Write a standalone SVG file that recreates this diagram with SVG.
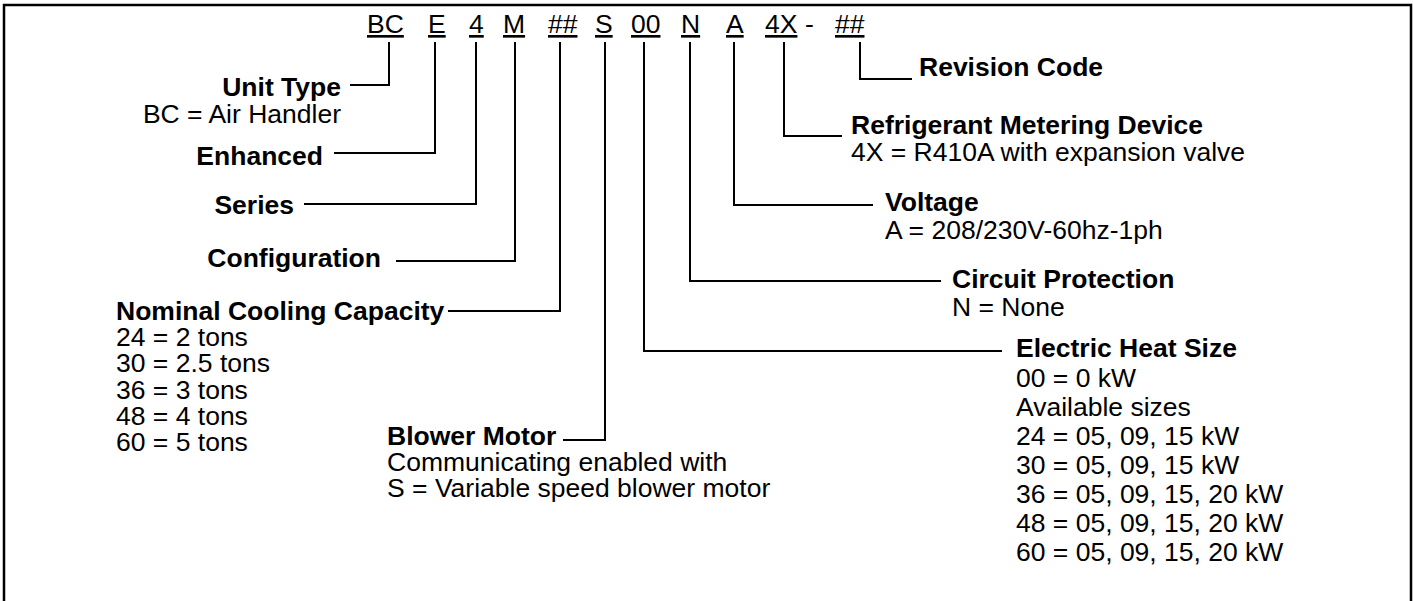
<svg xmlns="http://www.w3.org/2000/svg" width="1413" height="601" viewBox="0 0 1413 601">
<style>
text{font-family:"Liberation Sans",Arial,sans-serif;font-size:26.5px;fill:#000}
.b{font-weight:bold}
.e{text-anchor:end}
.u{text-decoration:underline}
.c{fill:none;stroke:#000;stroke-width:2}
</style>
<rect x="0" y="0" width="1413" height="601" fill="#fff"/>
<rect x="4" y="5" width="1407" height="640" fill="none" stroke="#000" stroke-width="2.5"/>
<g id="code">
<text class="u" x="367" y="33">BC</text>
<text class="u" x="428" y="33">E</text>
<text class="u" x="469" y="33">4</text>
<text class="u" x="503" y="33">M</text>
<text class="u" x="548" y="33">##</text>
<text class="u" x="595" y="33">S</text>
<text class="u" x="631" y="33">00</text>
<text class="u" x="681" y="33">N</text>
<text class="u" x="726" y="33">A</text>
<text class="u" x="765" y="33">4X</text>
<text x="805" y="33">-</text>
<text class="u" x="835" y="33">##</text>
</g>
<g id="connectors">
<path class="c" d="M389,42 V85 H350"/>
<path class="c" d="M435,42 V153 H334"/>
<path class="c" d="M476,42 V204 H304"/>
<path class="c" d="M515,42 V261 H396"/>
<path class="c" d="M560,42 V311 H448"/>
<path class="c" d="M605,42 V440 H563"/>
<path class="c" d="M644,42 V351 H1002"/>
<path class="c" d="M690,42 V281 H941"/>
<path class="c" d="M734,42 V205 H873"/>
<path class="c" d="M784,42 V136 H842"/>
<path class="c" d="M860,42 V79 H912"/>
</g>
<g id="unit-type">
<text class="b e" x="341" y="96">Unit Type</text>
<text class="e" x="341" y="123">BC = Air Handler</text>
</g>
<g id="enhanced"><text class="b e" x="323" y="165">Enhanced</text></g>
<g id="series"><text class="b e" x="294" y="214">Series</text></g>
<g id="configuration"><text class="b e" x="381" y="267">Configuration</text></g>
<g id="capacity">
<text class="b" x="116" y="320">Nominal Cooling Capacity</text>
<text x="116" y="346">24 = 2 tons</text>
<text x="116" y="372">30 = 2.5 tons</text>
<text x="116" y="399">36 = 3 tons</text>
<text x="116" y="425">48 = 4 tons</text>
<text x="116" y="451">60 = 5 tons</text>
</g>
<g id="blower">
<text class="b" x="387" y="445">Blower Motor</text>
<text x="387" y="471">Communicating enabled with</text>
<text x="387" y="497">S = Variable speed blower motor</text>
</g>
<g id="revision"><text class="b" x="919" y="76">Revision Code</text></g>
<g id="metering">
<text class="b" x="851" y="134">Refrigerant Metering Device</text>
<text x="851" y="161">4X = R410A with expansion valve</text>
</g>
<g id="voltage">
<text class="b" x="885" y="211">Voltage</text>
<text x="885" y="239">A = 208/230V-60hz-1ph</text>
</g>
<g id="circuit">
<text class="b" x="952" y="288">Circuit Protection</text>
<text x="952" y="316">N = None</text>
</g>
<g id="heat">
<text class="b" x="1016" y="357">Electric Heat Size</text>
<text x="1016" y="387">00 = 0 kW</text>
<text x="1016" y="416">Available sizes</text>
<text x="1016" y="445">24 = 05, 09, 15 kW</text>
<text x="1016" y="474">30 = 05, 09, 15 kW</text>
<text x="1016" y="503">36 = 05, 09, 15, 20 kW</text>
<text x="1016" y="532">48 = 05, 09, 15, 20 kW</text>
<text x="1016" y="561">60 = 05, 09, 15, 20 kW</text>
</g>
</svg>
